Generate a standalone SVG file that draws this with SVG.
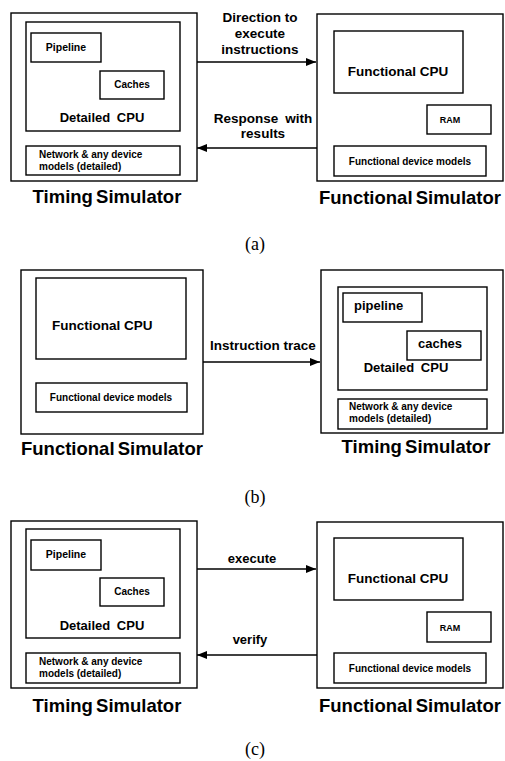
<svg xmlns="http://www.w3.org/2000/svg" width="505" height="761" viewBox="0 0 505 761">
<style>
rect{fill:none;stroke:#000;stroke-width:1.4}
text{font-family:"Liberation Sans",Arial,sans-serif;font-weight:bold;fill:#000}
.c{text-anchor:middle}
.t{font-size:18.5px;word-spacing:-2px}
.m{font-size:13.5px}
.s{font-size:10px}
.p{font-size:10.5px}
.r{font-size:9px}
.l{font-size:13px}
.cap{font-family:"Liberation Serif","Times New Roman",serif;font-weight:normal;font-size:18px}
.w{stroke:#000;stroke-width:1.4;fill:none}
</style>
<defs>
<marker id="ah" viewBox="0 0 10 8" refX="10" refY="4" markerWidth="10" markerHeight="8" markerUnits="userSpaceOnUse" orient="auto">
<path d="M0,0 L10,4 L0,8 z" fill="#000"/>
</marker>
</defs>

<!-- Panel (a) -->
<g id="a-timing">
<rect x="11" y="13" width="186" height="168"/>
<rect x="26" y="22" width="154" height="109"/>
<rect x="31" y="33" width="70" height="29"/>
<text class="p c" x="66" y="51">Pipeline</text>
<rect x="100" y="71" width="64" height="28"/>
<text class="s c" x="132" y="88">Caches</text>
<text class="l c" x="102" y="122" word-spacing="3">Detailed CPU</text>
<rect x="26" y="146" width="154" height="29"/>
<text class="s" x="39" y="158">Network &amp; any device</text>
<text class="s" x="39" y="170">models (detailed)</text>
<text class="t c" x="107" y="203">Timing Simulator</text>
</g>
<g id="a-functional">
<rect x="317" y="14" width="186" height="167"/>
<rect x="334" y="31" width="129" height="62"/>
<text class="m c" x="398" y="76">Functional CPU</text>
<rect x="427" y="105" width="64" height="29"/>
<text class="r c" x="450" y="123">RAM</text>
<rect x="334" y="146" width="152" height="30"/>
<text class="s c" x="410" y="165">Functional device models</text>
<text class="t c" x="410" y="204">Functional Simulator</text>
</g>
<g id="a-connectors">
<line class="w" x1="197" y1="62" x2="316" y2="62" marker-end="url(#ah)"/>
<line class="w" x1="317" y1="148" x2="197" y2="148" marker-end="url(#ah)"/>
<text class="m c" x="260" y="22">Direction to</text>
<text class="m c" x="260" y="38">execute</text>
<text class="m c" x="260" y="54">instructions</text>
<text class="m c" x="263" y="123" word-spacing="3">Response with</text>
<text class="m c" x="263" y="138">results</text>
</g>
<text class="cap c" x="255" y="250">(a)</text>

<!-- Panel (b) -->
<g id="b-functional">
<rect x="21" y="270" width="182" height="164"/>
<rect x="36" y="278" width="150" height="81"/>
<text class="m" x="52" y="330">Functional CPU</text>
<rect x="36" y="383" width="151" height="29"/>
<text class="s c" x="111" y="401">Functional device models</text>
<text class="t c" x="112" y="455">Functional Simulator</text>
</g>
<g id="b-timing">
<rect x="321" y="270" width="182" height="163"/>
<rect x="338" y="287" width="149" height="103"/>
<rect x="343" y="293" width="79" height="29"/>
<text class="l" x="354" y="310">pipeline</text>
<rect x="407" y="331" width="74" height="29"/>
<text class="l c" x="440" y="348">caches</text>
<text class="l c" x="406" y="372" word-spacing="3">Detailed CPU</text>
<rect x="338" y="399" width="149" height="30"/>
<text class="s" x="349" y="410">Network &amp; any device</text>
<text class="s" x="349" y="422">models (detailed)</text>
<text class="t c" x="416" y="453">Timing Simulator</text>
</g>
<g id="b-connectors">
<line class="w" x1="203" y1="362" x2="320" y2="362" marker-end="url(#ah)"/>
<text class="m c" x="263" y="350">Instruction trace</text>
</g>
<text class="cap c" x="255" y="503">(b)</text>

<!-- Panel (c) -->
<g id="c-timing">
<rect x="11" y="521" width="186" height="167"/>
<rect x="26" y="529" width="154" height="109"/>
<rect x="31" y="540" width="70" height="30"/>
<text class="p c" x="66" y="558">Pipeline</text>
<rect x="100" y="578" width="64" height="28"/>
<text class="s c" x="132" y="595">Caches</text>
<text class="l c" x="102" y="630" word-spacing="3">Detailed CPU</text>
<rect x="26" y="653" width="154" height="30"/>
<text class="s" x="39" y="665">Network &amp; any device</text>
<text class="s" x="39" y="677">models (detailed)</text>
<text class="t c" x="107" y="712">Timing Simulator</text>
</g>
<g id="c-functional">
<rect x="317" y="522" width="186" height="166"/>
<rect x="334" y="538" width="129" height="62"/>
<text class="m c" x="398" y="583">Functional CPU</text>
<rect x="427" y="612" width="64" height="30"/>
<text class="r c" x="450" y="631">RAM</text>
<rect x="334" y="653" width="152" height="30"/>
<text class="s c" x="410" y="672">Functional device models</text>
<text class="t c" x="410" y="712">Functional Simulator</text>
</g>
<g id="c-connectors">
<line class="w" x1="197" y1="569" x2="316" y2="569" marker-end="url(#ah)"/>
<line class="w" x1="317" y1="655" x2="197" y2="655" marker-end="url(#ah)"/>
<text class="l c" x="252" y="563">execute</text>
<text class="l c" x="250" y="644">verify</text>
</g>
<text class="cap c" x="255" y="755">(c)</text>
</svg>
